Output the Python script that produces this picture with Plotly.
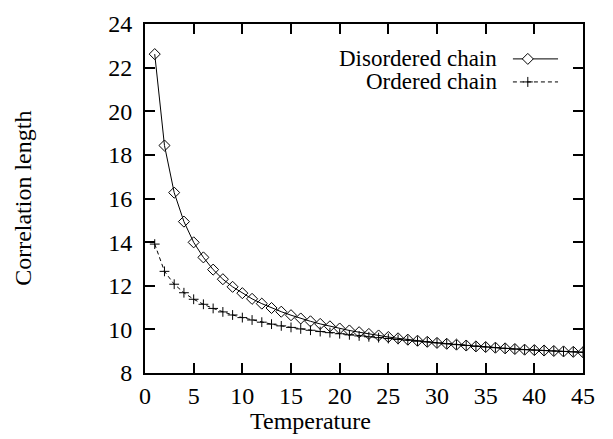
import plotly.graph_objects as go

temperature = list(range(1, 46))
disordered = [22.62, 18.43, 16.27, 14.94, 13.99, 13.30, 12.74, 12.30, 11.95, 11.66,
              11.40, 11.18, 10.98, 10.81, 10.65, 10.50, 10.37, 10.25, 10.14, 10.04,
              9.95, 9.87, 9.79, 9.72, 9.65, 9.59, 9.53, 9.48, 9.43, 9.38,
              9.34, 9.30, 9.26, 9.22, 9.19, 9.16, 9.13, 9.10, 9.07, 9.05,
              9.03, 9.01, 8.99, 8.97, 8.95]
ordered = [13.91, 12.66, 12.07, 11.68, 11.38, 11.15, 10.96, 10.80, 10.66, 10.54,
           10.43, 10.33, 10.24, 10.16, 10.09, 10.02, 9.96, 9.90, 9.85, 9.80,
           9.75, 9.70, 9.66, 9.62, 9.58, 9.54, 9.50, 9.46, 9.42, 9.38,
           9.34, 9.30, 9.26, 9.22, 9.19, 9.16, 9.13, 9.10, 9.07, 9.05,
           9.03, 9.01, 8.99, 8.97, 8.95]
x_ticks = [0, 5, 10, 15, 20, 25, 30, 35, 40, 45]
y_ticks = [8, 10, 12, 14, 16, 18, 20, 22, 24]
series_names = ["Disordered chain", "Ordered chain"]

FONT = "Liberation Serif"
FS = 24
FS_LEG = 23

fig = go.Figure()
fig.add_trace(go.Scatter(x=temperature, y=disordered, mode="lines+markers",
                         name=series_names[0],
                         line=dict(color="black", width=1),
                         marker=dict(symbol="diamond-open", size=8.5, color="black",
                                     line=dict(width=1, color="black")),
                         showlegend=False))
fig.add_trace(go.Scatter(x=temperature, y=ordered, mode="lines+markers",
                         name=series_names[1],
                         line=dict(color="black", width=1, dash="4px,3px"),
                         marker=dict(symbol="cross-thin-open", size=7, color="black",
                                     line=dict(width=1, color="black")),
                         showlegend=False))

axis_common = dict(showgrid=False, zeroline=False, showline=True, linecolor="black",
                   linewidth=2, mirror="ticks", ticks="inside", ticklen=10,
                   tickwidth=1.5, tickcolor="black",
                   tickfont=dict(family=FONT, size=FS, color="black"))
fig.update_xaxes(range=[0, 45], tickvals=x_ticks, ticktext=[str(v) for v in x_ticks],
                 **axis_common)
fig.update_yaxes(range=[8, 24], tickvals=y_ticks, ticktext=[str(v) for v in y_ticks],
                 ticklabelstandoff=6, **axis_common)

annotations = [
    dict(text="Temperature", x=0.377, y=-0.137, xref="paper", yref="paper",
         xanchor="center", yanchor="middle", showarrow=False,
         font=dict(family=FONT, size=FS, color="black")),
    dict(text="Correlation length", x=-0.28, y=0.5, xref="paper", yref="paper",
         xanchor="center", yanchor="middle", textangle=-90, showarrow=False,
         font=dict(family=FONT, size=FS, color="black")),
]
legend_y = [0.900, 0.834]
for name, ly in zip(series_names, legend_y):
    annotations.append(dict(text=name, x=0.806, y=ly, xref="paper", yref="paper",
                            xanchor="right", yanchor="middle", showarrow=False,
                            borderpad=0,
                            font=dict(family=FONT, size=FS_LEG, color="black")))

shapes = [
    dict(type="line", xref="paper", yref="paper", x0=0.840, x1=0.943,
         y0=legend_y[0], y1=legend_y[0], line=dict(color="black", width=1)),
    dict(type="line", xref="paper", yref="paper", x0=0.840, x1=0.943,
         y0=legend_y[1], y1=legend_y[1], line=dict(color="black", width=1, dash="4px,3px")),
    dict(type="path", xref="paper", yref="paper", xsizemode="pixel", ysizemode="pixel",
         xanchor=0.874, yanchor=legend_y[0],
         path="M0,5.5 L5.5,0 L0,-5.5 L-5.5,0 Z",
         fillcolor="white", line=dict(color="black", width=1)),
    dict(type="path", xref="paper", yref="paper", xsizemode="pixel", ysizemode="pixel",
         xanchor=0.874, yanchor=legend_y[1],
         path="M-5,0 L5,0 M0,-5 L0,5",
         line=dict(color="black", width=1)),
]

fig.update_layout(width=613, height=439, margin=dict(l=145, r=30, t=11, b=66),
                  paper_bgcolor="white", plot_bgcolor="white",
                  annotations=annotations, shapes=shapes, showlegend=False)
fig.write_html("out.html")
